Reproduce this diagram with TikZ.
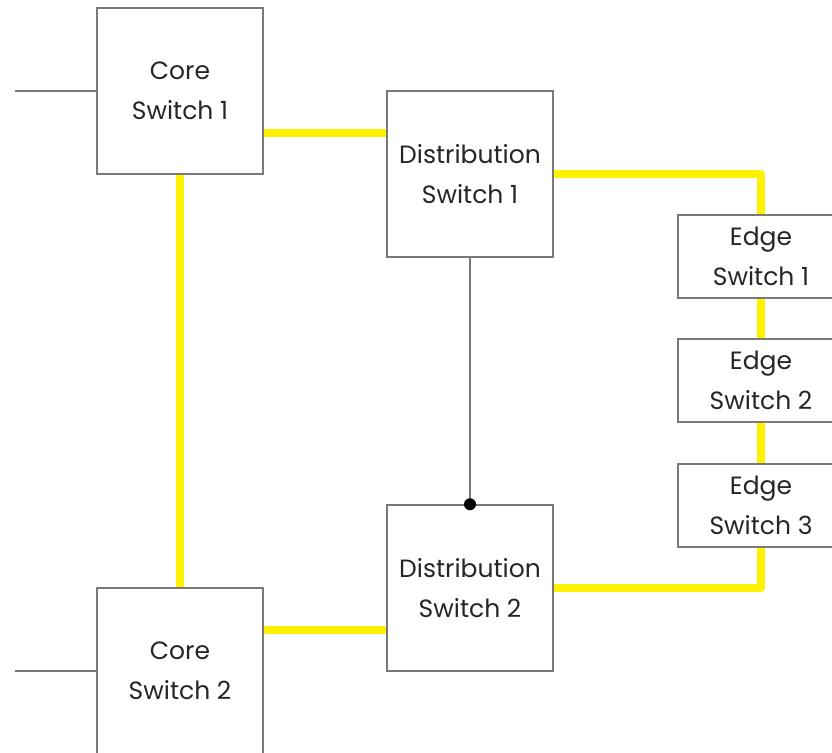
\documentclass[tikz,border=0pt]{standalone}
\usepackage{fontspec}
\setmainfont{Poppins}
\begin{document}
\begin{tikzpicture}[x=1pt,y=-1pt,
  box/.style={draw=gray!95!black, line width=1.5pt, fill=white, align=center,
    font=\fontsize{25}{40}\selectfont, text=black!85, inner sep=0pt},
  big/.style={box, minimum width=166pt, minimum height=166pt},
  small/.style={box, minimum width=166pt, minimum height=83pt},
  yel/.style={draw=yellow, line width=8pt, line join=round},
  thin/.style={draw=gray!95!black, line width=1.3pt}]
\useasboundingbox (0,0) rectangle (832,752);
\clip (0,0) rectangle (832,752);
\coordinate (in1) at (15,91);
\coordinate (in2) at (15,671);
\node[big] (core1) at (180,91) {Core\\Switch 1};
\node[big] (dist1) at (470,174) {Distribution\\Switch 1};
\node[big] (dist2) at (470,588) {Distribution\\Switch 2};
\node[big] (core2) at (180,671) {Core\\Switch 2};
\node[small] (edge1) at (761,256.5) {Edge\\Switch 1};
\node[small] (edge2) at (761,380.5) {Edge\\Switch 2};
\node[small] (edge3) at (761,505.5) {Edge\\Switch 3};
\coordinate (c1out) at ([yshift=-42pt]core1.east);
\coordinate (c2out) at ([yshift=41pt]core2.east);
\draw[thin] (in1) -- (core1.west);
\draw[thin] (in2) -- (core2.west);
\draw[yel] (c1out) -- (dist1.west |- c1out);
\draw[yel] (core1.south) -- (core2.north);
\draw[yel] (c2out) -- (dist2.west |- c2out);
\draw[yel] (dist1.east) -| (edge1.north);
\draw[yel] (edge1.south) -- (edge2.north);
\draw[yel] (edge2.south) -- (edge3.north);
\draw[yel] (edge3.south) |- (dist2.east);
\draw[thin] (dist1.south) -- (dist2.north);
\fill[black] (dist2.north) circle (6pt);
\end{tikzpicture}
\end{document}
